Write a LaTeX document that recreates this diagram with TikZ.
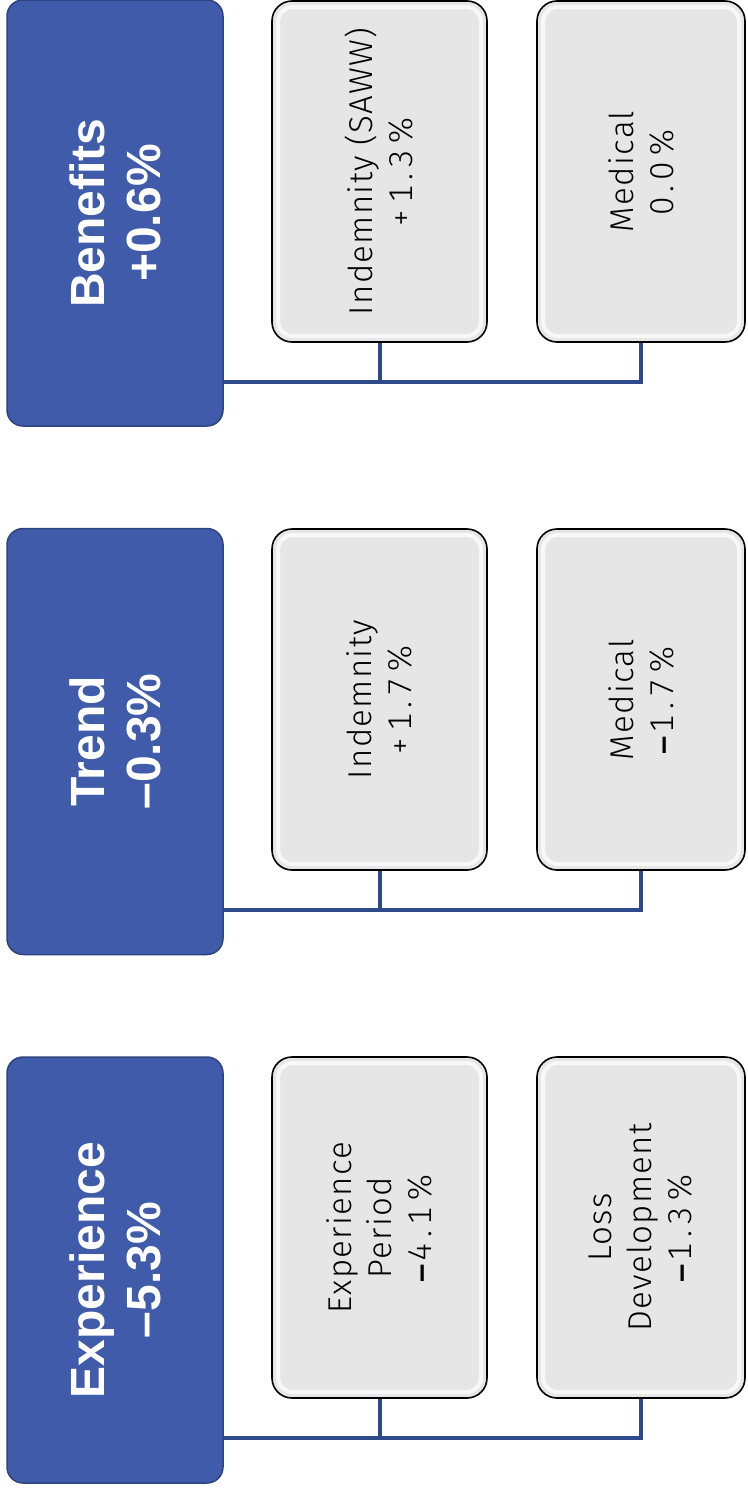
\documentclass[tikz,border=0pt]{standalone}
\usepackage{fontspec}
\setmainfont{Liberation Sans}
\newfontfamily\thinfont[LetterSpace=4]{Fira Sans Light}
\newfontfamily\numfont[LetterSpace=15,Numbers=Monospaced]{Fira Sans Light}
\newfontfamily\minusfont{Liberation Sans}
\definecolor{bluefill}{HTML}{3F5BA9}
\definecolor{blueedge}{HTML}{2E4482}
\definecolor{connblue}{HTML}{2F4A8A}
\definecolor{grayfill}{HTML}{E6E6E6}
\newcommand{\mydash}{{\minusfont\bfseries –}\hspace{3pt}}
\tikzset{
  bluebox/.style={draw=blueedge, line width=1.5pt, fill=bluefill, rounded corners=16pt,
    minimum width=216pt, minimum height=426pt, inner sep=0pt},
  graybox/.style={draw=black, line width=1.6pt, fill=grayfill, rounded corners=20pt,
    inner sep=0pt,
    path picture={\draw[white, line width=4pt, opacity=0.75, rounded corners=15pt]
      ([shift={(6pt,6pt)}]path picture bounding box.south west) rectangle
      ([shift={(-6pt,-6pt)}]path picture bounding box.north east);}},
  bluetxt/.style={rotate=90, align=center, text=white,
    font=\fontsize{48pt}{56pt}\selectfont\bfseries},
  graytxt/.style={rotate=90, align=center, text=black,
    font=\fontsize{33pt}{40pt}\selectfont\thinfont},
  conn/.style={draw=connblue, line width=4pt},
}
\begin{document}
\begin{tikzpicture}[x=1pt,y=-1pt]
\useasboundingbox (0,0) rectangle (747,1491);
% Benefits group
\node[bluebox] (bB) at (115,213) {};
\node[bluetxt] (tB) at (bB) {Benefits\\+0.6\%};
\node[graybox, minimum width=215pt, minimum height=341pt] (gB1) at (379.5,171.5) {};
\node[graytxt] (tB1) at (gB1) {Indemnity (SAWW)\\{\numfont +1.3\%}};
\node[graybox, minimum width=208pt, minimum height=341pt] (gB2) at (641,171.5) {};
\node[graytxt] (tB2) at (gB2) {Medical\\{\numfont 0.0\%}};
\coordinate (jB) at (0,382);
\draw[conn] (bB.east |- jB) -- (gB2.south |- jB) -- (gB2.south);
\draw[conn] (gB1.south) -- (gB1.south |- jB);
% Trend group
\node[bluebox] (bT) at (115,741.5) {};
\node[bluetxt] (tT) at (bT) {Trend\\–0.3\%};
\node[graybox, minimum width=215pt, minimum height=341pt] (gT1) at (379.5,699.5) {};
\node[graytxt] (tT1) at (gT1) {Indemnity\\{\numfont +1.7\%}};
\node[graybox, minimum width=208pt, minimum height=341pt] (gT2) at (641,699.5) {};
\node[graytxt] (tT2) at (gT2) {Medical\\\mydash{\numfont 1.7\%}};
\coordinate (jT) at (0,910);
\draw[conn] (bT.east |- jT) -- (gT2.south |- jT) -- (gT2.south);
\draw[conn] (gT1.south) -- (gT1.south |- jT);
% Experience group
\node[bluebox] (bE) at (115,1270) {};
\node[bluetxt] (tE) at (bE) {Experience\\–5.3\%};
\node[graybox, minimum width=215pt, minimum height=341pt] (gE1) at (379.5,1227.5) {};
\node[graytxt] (tE1) at (gE1) {Experience\\Period\\\mydash{\numfont 4.1\%}};
\node[graybox, minimum width=208pt, minimum height=341pt] (gE2) at (641,1227.5) {};
\node[graytxt] (tE2) at (gE2) {Loss\\Development\\\mydash{\numfont 1.3\%}};
\coordinate (jE) at (0,1438);
\draw[conn] (bE.east |- jE) -- (gE2.south |- jE) -- (gE2.south);
\draw[conn] (gE1.south) -- (gE1.south |- jE);
\end{tikzpicture}
\end{document}
